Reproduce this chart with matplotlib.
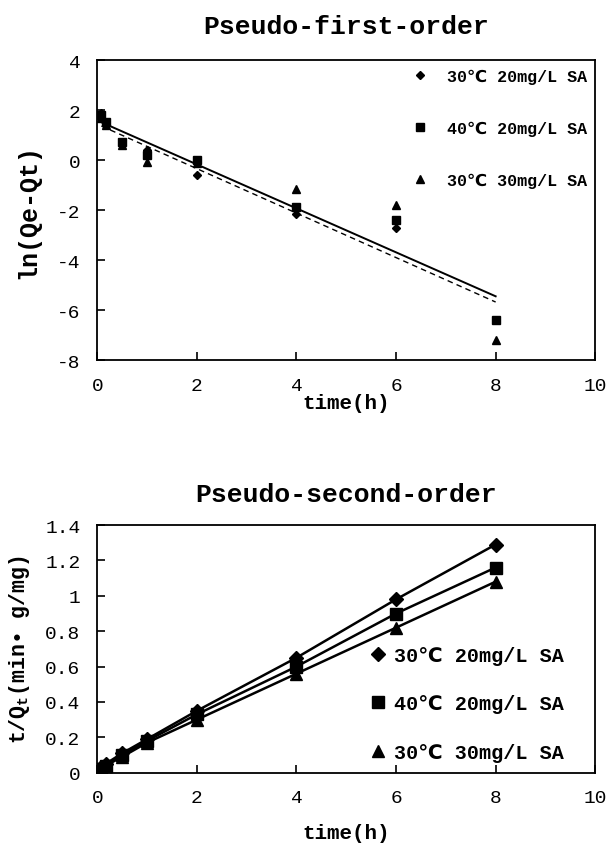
import numpy as np
import matplotlib
matplotlib.use("Agg")
import matplotlib.pyplot as plt
from matplotlib.ticker import FuncFormatter

plt.rcParams['font.family'] = ['Liberation Mono', 'DejaVu Sans Mono', 'DejaVu Sans', 'Noto Sans CJK SC']
plt.rcParams['axes.unicode_minus'] = False
plt.rcParams['mathtext.fontset'] = 'custom'
plt.rcParams['mathtext.rm'] = 'Liberation Mono:bold'
plt.rcParams['mathtext.it'] = 'Liberation Mono:bold'
plt.rcParams['mathtext.bf'] = 'Liberation Mono:bold'

labels = ["30℃ 20mg/L SA", "40℃ 20mg/L SA", "30℃ 30mg/L SA"]
markers = ["D", "s", "^"]

# pseudo-first-order: ln(Qe-Qt)
t1 = [0.083, 0.167, 0.5, 1, 2, 4, 6, 8]
ln_a = [1.9, 1.5, 0.7, 0.4, -0.6, -2.15, -2.7, np.nan]
ln_b = [1.8, 1.55, 0.75, 0.2, 0.0, -1.85, -2.4, -6.4]
ln_c = [1.7, 1.4, 0.6, -0.05, -0.1, -1.15, -1.8, -7.2]
# fitted lines (slope, intercept)
fit_solid = (-0.88, 1.6)
fit_dash = (-0.89, 1.45)

# pseudo-second-order: t/Qt
t2 = [0.083, 0.167, 0.5, 1, 2, 4, 6, 8]
tq_a = [0.03, 0.05, 0.11, 0.19, 0.35, 0.65, 0.98, 1.29]
tq_b = [0.02, 0.04, 0.10, 0.18, 0.33, 0.60, 0.90, 1.16]
tq_c = [0.02, 0.04, 0.09, 0.17, 0.30, 0.56, 0.82, 1.08]

fig = plt.figure(figsize=(6.08, 8.54), dpi=100)

# ---- top panel
ax1 = fig.add_axes([0.160, 0.577, 0.819, 0.351])
for y, m, lab in zip([ln_a, ln_b, ln_c], markers, labels):
    ms = 4.5 if m == "D" else 6
    ax1.plot(t1, y, linestyle="none", marker=m, color="black", markersize=ms, label=lab)
xf = np.array([t1[0], t1[-1]])
ax1.plot(xf, fit_solid[0] * xf + fit_solid[1], color="black", lw=1.4)
ax1.plot(xf, fit_dash[0] * xf + fit_dash[1], color="black", lw=1.0, ls=(0, (4, 3)))
ax1.set_xlim(0, 10)
ax1.set_ylim(-8, 4)
ax1.set_xticks(range(0, 11, 2))
ax1.set_yticks(range(-8, 5, 2))
ax1.set_title("Pseudo-first-order", fontsize=19, fontweight="bold", pad=20)
ax1.set_ylabel("ln(Qe-Qt)", fontsize=18, fontweight="bold")
ax1.yaxis.set_label_coords(-0.115, 0.5)
ax1.legend(loc="upper right", bbox_to_anchor=(1.0, 1.0), frameon=False,
           prop={"weight": "bold", "size": 12}, labelspacing=2.2, handletextpad=1.0,
           handlelength=1.2, markerscale=0.9, borderaxespad=0.1)

# ---- bottom panel
ax2 = fig.add_axes([0.160, 0.094, 0.819, 0.290])
for y, m, lab in zip([tq_a, tq_b, tq_c], markers, labels):
    ms = 7 if m == "D" else 9
    ax2.plot(t2, y, linestyle="-", lw=1.8, marker=m, color="black", markersize=ms, label=lab)
ax2.set_xlim(0, 10)
ax2.set_ylim(0, 1.4)
ax2.set_xticks(range(0, 11, 2))
ax2.set_yticks(np.arange(0, 1.41, 0.2))
ax2.yaxis.set_major_formatter(FuncFormatter(lambda v, p: f"{v:g}"))
ax2.set_title("Pseudo-second-order", fontsize=19, fontweight="bold", pad=17)
ax2.set_ylabel(r"t/Q$_\mathrm{t}$(min• g/mg)", fontsize=15.5, fontweight="bold")
ax2.yaxis.set_label_coords(-0.132, 0.5)
ax2.legend(loc="lower right", bbox_to_anchor=(0.96, 0.0), frameon=False,
           prop={"weight": "bold", "size": 14.5}, labelspacing=1.45, handletextpad=0.3,
           handlelength=1.0, borderaxespad=0.15)
for ln in ax2.get_legend().get_lines():
    ln.set_linestyle("none")

for ax in (ax1, ax2):
    ax.tick_params(direction="in", length=6, width=1.2, labelsize=14)
    ax.tick_params(axis="x", pad=12)
    ax.tick_params(axis="y", pad=12)
    for s in ax.spines.values():
        s.set_linewidth(1.3)

ax1.set_xlabel("time(h)", fontsize=15, fontweight="bold", labelpad=-1)
ax2.set_xlabel("time(h)", fontsize=15, fontweight="bold", labelpad=12)

fig.savefig("out.png", dpi=100)
